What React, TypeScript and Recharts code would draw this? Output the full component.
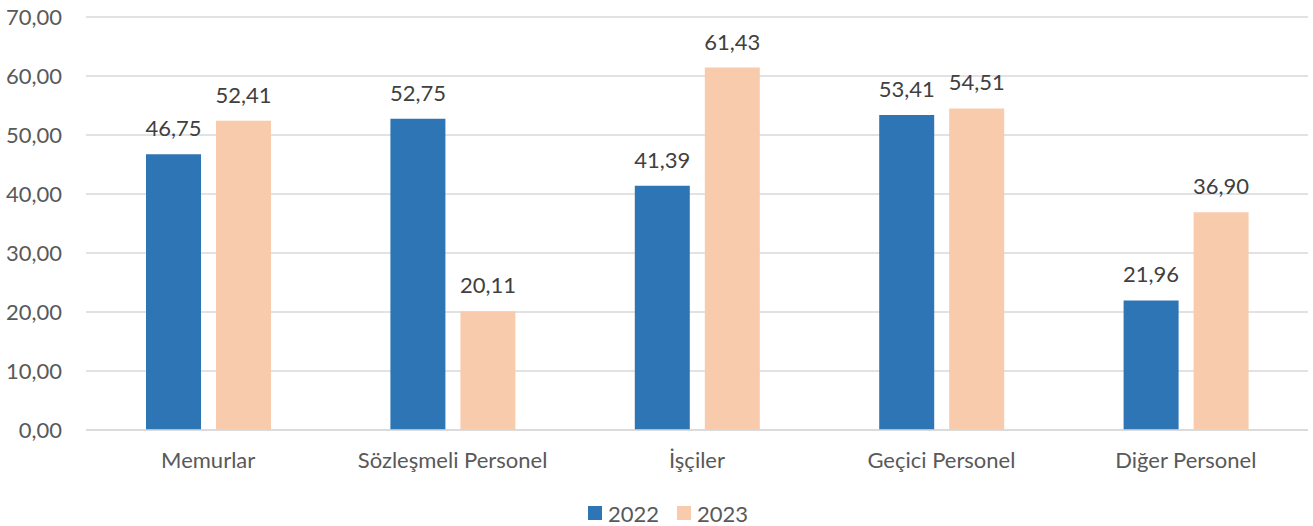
import React from 'react';
import { BarChart, Bar, XAxis, YAxis, CartesianGrid, Legend, LabelList } from 'recharts';

const categories = ['Memurlar', 'Sözleşmeli Personel', 'İşçiler', 'Geçici Personel', 'Diğer Personel'];
const values2022 = [46.75, 52.75, 41.39, 53.41, 21.96];
const values2023 = [52.41, 20.11, 61.43, 54.51, 36.9];
const seriesNames = ['2022', '2023'];
const seriesColors = ['#2E75B6', '#F8CBAD'];
const yTicks = [0, 10, 20, 30, 40, 50, 60, 70];

const data = categories.map((c, i) => ({ name: c, s2022: values2022[i], s2023: values2023[i] }));

const fmt = (v: any) => Number(v).toFixed(2).replace('.', ',');
const FONT = 'Lato, "Noto Sans", sans-serif';

const LegendContent = () => (
  <div style={{ display: 'flex', justifyContent: 'center', alignItems: 'center', height: 26, paddingLeft: 23, fontFamily: FONT, fontSize: 22, color: '#595959' }}>
    {seriesNames.map((n, i) => (
      <div key={n} style={{ display: 'flex', alignItems: 'center', marginRight: i === 0 ? 18 : 0 }}>
        <div style={{ width: 14, height: 14, background: seriesColors[i], marginRight: 6 }} />
        <span>{n}</span>
      </div>
    ))}
  </div>
);

export default function App() {
  return (
    <div style={{ position: 'absolute', left: 0, top: 0, width: 1313, height: 526, background: '#fff' }}>
      <BarChart width={1313} height={526} data={data} margin={{ top: 17, right: 5, left: 0, bottom: 0 }} barGap={15}>
        <CartesianGrid vertical={false} stroke="#D9D9D9" strokeWidth={1.3} />
        <XAxis
          dataKey="name"
          height={70}
          tickLine={false}
          tickSize={0}
          tickMargin={22}
          axisLine={{ stroke: '#D9D9D9', strokeWidth: 1.3 }}
          tick={{ fill: '#595959', fontSize: 22, fontFamily: FONT }}
          interval={0}
        />
        <YAxis
          width={86}
          domain={[0, 70]}
          ticks={yTicks}
          axisLine={false}
          tickLine={false}
          tickSize={0}
          tickMargin={24}
          tickFormatter={fmt}
          tick={{ fill: '#595959', fontSize: 22, fontFamily: FONT }}
        />
        <Legend verticalAlign="bottom" content={<LegendContent />} wrapperStyle={{ left: 0, width: 1313 }} />
        <Bar dataKey="s2022" name={seriesNames[0]} fill={seriesColors[0]} barSize={55} isAnimationActive={false}>
          <LabelList dataKey="s2022" position="top" offset={18} formatter={fmt} style={{ fill: '#404040', fontSize: 22, fontFamily: FONT }} />
        </Bar>
        <Bar dataKey="s2023" name={seriesNames[1]} fill={seriesColors[1]} barSize={55} isAnimationActive={false}>
          <LabelList dataKey="s2023" position="top" offset={18} formatter={fmt} style={{ fill: '#404040', fontSize: 22, fontFamily: FONT }} />
        </Bar>
      </BarChart>
    </div>
  );
}
